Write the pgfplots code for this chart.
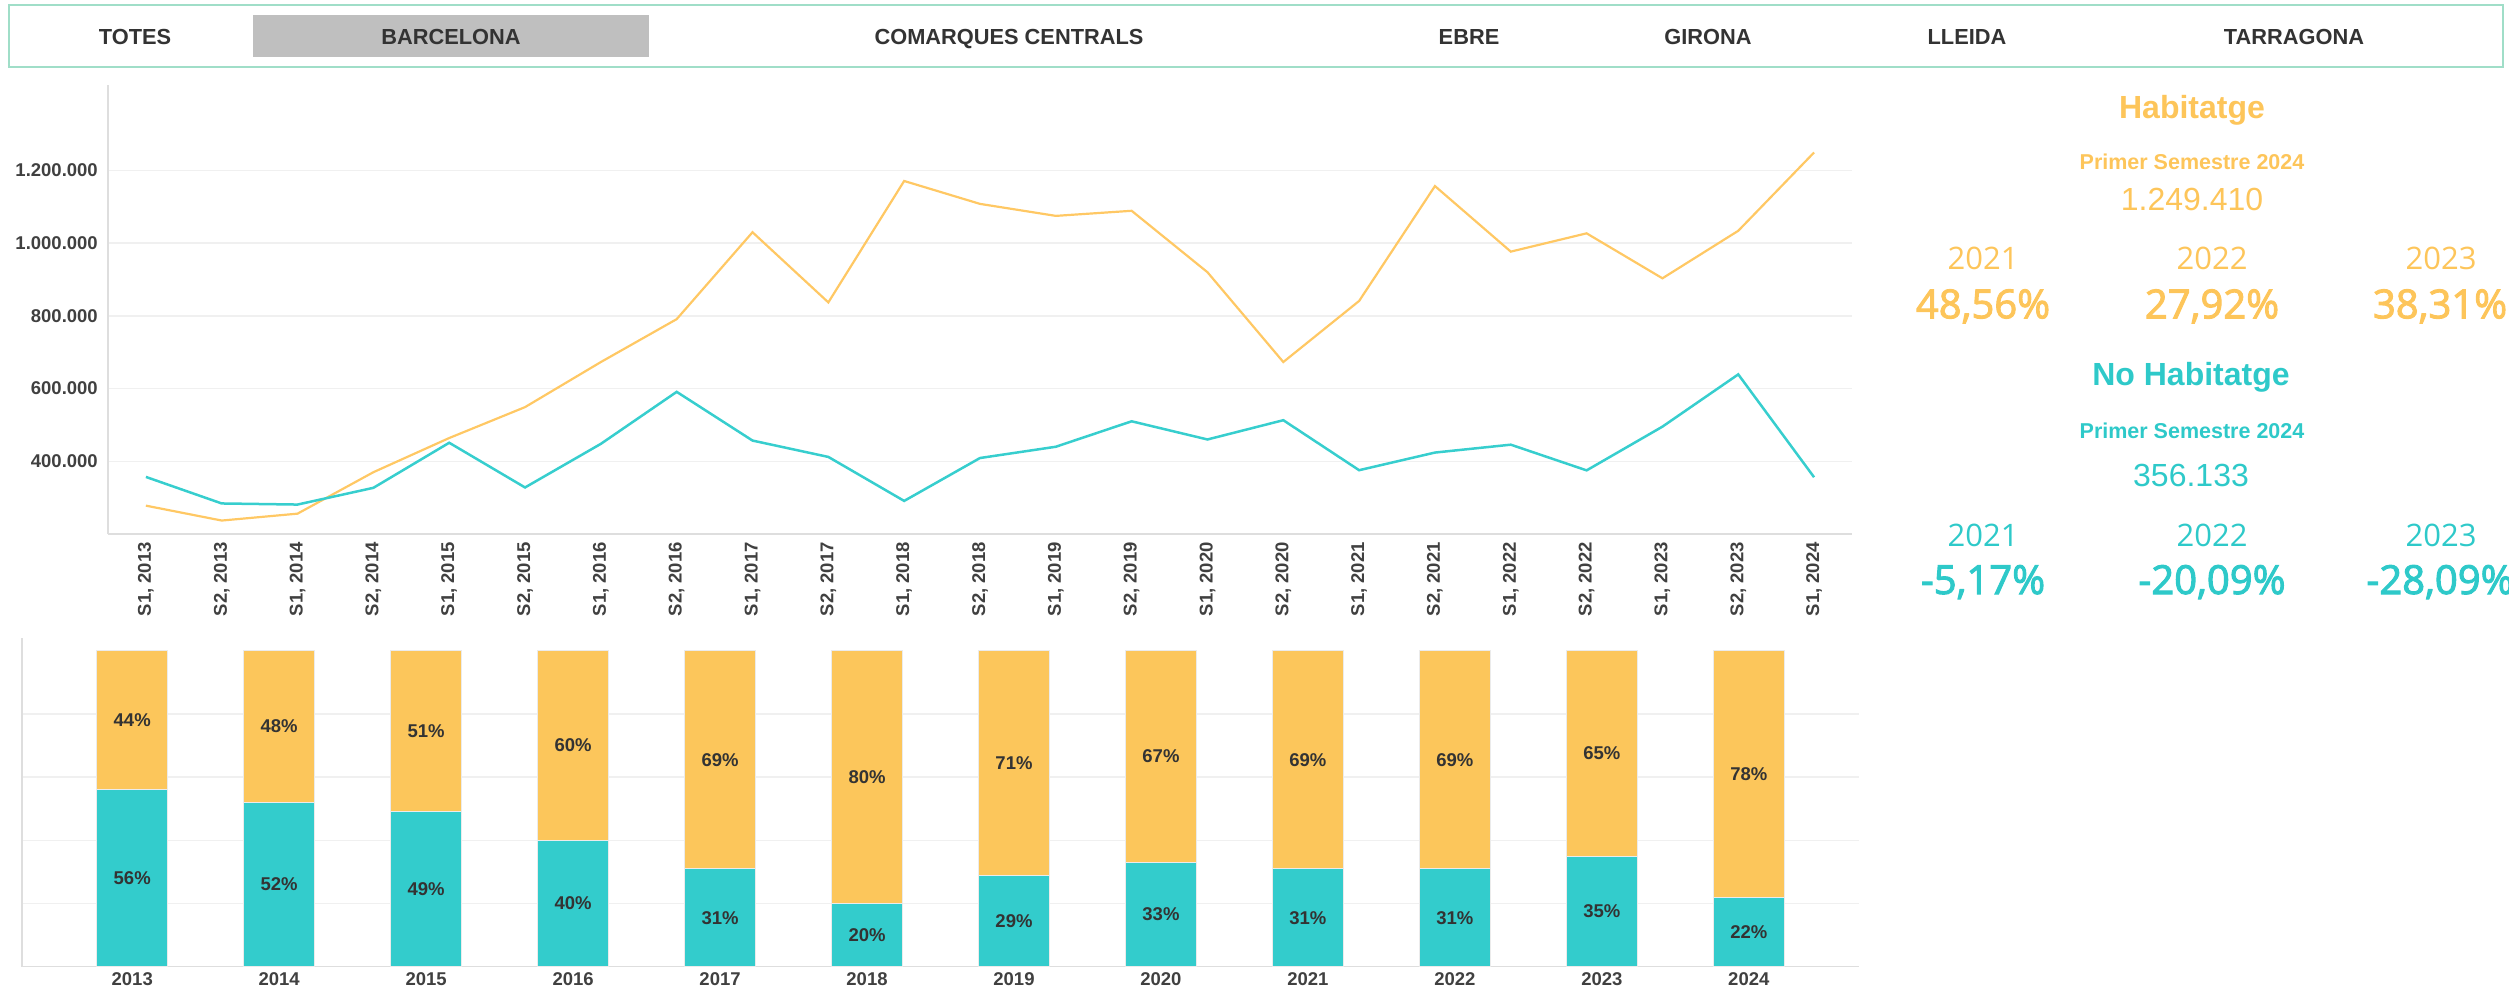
\documentclass[border=0pt]{standalone}
\usepackage{pgfplots}
\pgfplotsset{compat=1.18}
\usepackage{fontspec}
\setmainfont{Liberation Sans}
\newfontfamily\opensans{Open Sans}
\newfontfamily\ossb{Open Sans}[FakeBold=2.5]
\definecolor{hab}{RGB}{252,198,91}
\definecolor{nohab}{RGB}{51,204,204}
\definecolor{habline}{RGB}{255,200,100}
\definecolor{nohabline}{RGB}{55,206,206}
\definecolor{habtxt}{RGB}{253,197,90}
\definecolor{nohabtxt}{RGB}{46,201,201}
\definecolor{lab}{RGB}{64,64,64}
\definecolor{frame}{RGB}{160,222,200}
\newcommand{\fs}[1]{\fontsize{#1pt}{#1pt}\selectfont}

\pgfplotstableread{
x hab nohab
0 278000 357000
1 237000 284000
2 256000 281000
3 370000 327000
4 464000 451000
5 549000 328000
6 673000 448000
7 791000 591000
8 1030000 457000
9 837000 412000
10 1171000 291000
11 1108000 409000
12 1075000 440000
13 1089000 510000
14 920000 460000
15 673000 513000
16 841000 375500
17 1157000 424000
18 976700 445700
19 1027000 375000
20 903300 495300
21 1034000 639000
22 1249410 356133
}\semestres

\pgfplotstableread{
x nohab hab nmid hmid
0 56 44 28 78
1 52 48 26 76
2 49 51 24.5 74.5
3 40 60 20 70
4 31 69 15.5 65.5
5 20 80 10 60
6 29 71 14.5 64.5
7 33 67 16.5 66.5
8 31 69 15.5 65.5
9 31 69 15.5 65.5
10 35 65 17.5 67.5
11 22 78 11 61
}\shares

\begin{document}
\begin{tikzpicture}[x=1pt,y=1pt]
\useasboundingbox (0,0) rectangle (2509,-995);
% header bar
\draw[frame, line width=2pt] (9,-5) rectangle (2503,-67);
\fill[black!25] (253,-15) rectangle (649,-57);
\foreach \x/\t in {135/TOTES, 451/BARCELONA, 1009/COMARQUES CENTRALS, 1469/EBRE, 1708/GIRONA, 1967/LLEIDA, 2294/TARRAGONA}
  \node[anchor=base, inner sep=0pt, text=black!80, font=\fs{21.8}\bfseries] at (\x,-44.3) {\t};

% line chart
\begin{axis}[
  at={(108pt,-534pt)}, anchor=south west, scale only axis,
  width=1744pt, height=449pt,
  xmin=-0.5, xmax=22.5, ymin=200000, ymax=1435000,
  scaled y ticks=false,
  axis x line*=bottom, axis y line*=left,
  axis line style={draw=black!13, line width=1.5pt},
  major tick length=0pt,
  ytick={400000,600000,800000,1000000,1200000},
  yticklabels={400.000,600.000,800.000,1.000.000,1.200.000},
  ymajorgrids, major grid style={draw=black!6, line width=1.5pt},
  xtick={0,...,22},
  xticklabels={{S1, 2013},{S2, 2013},{S1, 2014},{S2, 2014},{S1, 2015},{S2, 2015},{S1, 2016},{S2, 2016},{S1, 2017},{S2, 2017},{S1, 2018},{S2, 2018},{S1, 2019},{S2, 2019},{S1, 2020},{S2, 2020},{S1, 2021},{S2, 2021},{S1, 2022},{S2, 2022},{S1, 2023},{S2, 2023},{S1, 2024}},
  tick label style={font=\fs{18.5}\bfseries, text=lab},
  yticklabel style={anchor=east, inner sep=0pt},
  yticklabel shift=10pt,
  xticklabel style={rotate=90, anchor=east, inner sep=0pt, font=\fs{18.5}\bfseries},
  xticklabel shift=8pt,
]
\addplot[habline, line width=2.2pt, mark=none] table[x=x, y=hab] {\semestres};
\addplot[nohabline, line width=2.5pt, mark=none] table[x=x, y=nohab] {\semestres};
\end{axis}

% stacked bar chart
\begin{axis}[
  at={(22pt,-966.7pt)}, anchor=south west, scale only axis,
  width=1837pt, height=328.7pt,
  xmin=-0.75, xmax=11.75, ymin=0, ymax=104,
  ybar stacked, bar width=71.3pt,
  axis x line*=bottom, axis y line*=left,
  axis line style={draw=black!13, line width=1.5pt},
  major tick length=0pt,
  ytick={20,40,60,80}, yticklabels={},
  ymajorgrids, major grid style={draw=black!6, line width=1.5pt},
  xtick={0,...,11},
  xticklabels={2013,2014,2015,2016,2017,2018,2019,2020,2021,2022,2023,2024},
  xticklabel style={anchor=north, inner sep=0pt, font=\fs{18.5}\bfseries, text=lab},
  xticklabel shift=6pt,
]
\addplot[fill=nohab, draw=black!8, line width=1pt] table[x=x, y=nohab] {\shares};
\addplot[fill=hab, draw=black!8, line width=1pt] table[x=x, y=hab] {\shares};
\end{axis}

% bar labels
\begin{axis}[
  at={(22pt,-966.7pt)}, anchor=south west, scale only axis,
  width=1837pt, height=328.7pt,
  xmin=-0.75, xmax=11.75, ymin=0, ymax=104,
  hide axis, clip=false,
  nodes near coords={\pgfmathprintnumber[fixed,precision=0,assume math mode=true]{\pgfplotspointmeta}\%},
  nodes near coords style={anchor=center, inner sep=0pt, font=\fs{18.5}\bfseries, text=black!80},
]
\addplot[only marks, mark=*, mark size=0pt, mark options={draw=none, fill=none}, point meta=explicit] table[x=x, y=nmid, meta=nohab] {\shares};
\addplot[only marks, mark=*, mark size=0pt, mark options={draw=none, fill=none}, point meta=explicit] table[x=x, y=hmid, meta=hab] {\shares};
\end{axis}

% right panel: Habitatge
\node[anchor=base, inner sep=0pt, text=habtxt, font=\fs{32}\bfseries] at (2192,-118.3) {Habitatge};
\node[anchor=base, inner sep=0pt, text=habtxt, font=\fs{21.5}\bfseries] at (2192,-169.3) {Primer Semestre 2024};
\node[anchor=base, inner sep=0pt, text=habtxt, font=\fs{32}] at (2192,-210.7) {1.249.410};
\node[anchor=base, inner sep=0pt, text=habtxt, font=\opensans\fs{31}] at (1983,-269.3) {2021};
\node[anchor=base, inner sep=0pt, text=habtxt, font=\opensans\fs{31}] at (2212,-269.3) {2022};
\node[anchor=base, inner sep=0pt, text=habtxt, font=\opensans\fs{31}] at (2441,-269.3) {2023};
\node[anchor=base, inner sep=0pt, text=habtxt, font=\ossb\fs{40}] at (1983,-318.3) {48,56\%};
\node[anchor=base, inner sep=0pt, text=habtxt, font=\ossb\fs{40}] at (2212,-318.3) {27,92\%};
\node[anchor=base, inner sep=0pt, text=habtxt, font=\ossb\fs{40}] at (2440,-318.3) {38,31\%};

% right panel: No Habitatge
\node[anchor=base, inner sep=0pt, text=nohabtxt, font=\fs{32}\bfseries] at (2191,-385) {No Habitatge};
\node[anchor=base, inner sep=0pt, text=nohabtxt, font=\fs{21.5}\bfseries] at (2192,-438.3) {Primer Semestre 2024};
\node[anchor=base, inner sep=0pt, text=nohabtxt, font=\fs{32}] at (2191,-486.7) {356.133};
\node[anchor=base, inner sep=0pt, text=nohabtxt, font=\opensans\fs{31}] at (1983,-546.7) {2021};
\node[anchor=base, inner sep=0pt, text=nohabtxt, font=\opensans\fs{31}] at (2212,-546.7) {2022};
\node[anchor=base, inner sep=0pt, text=nohabtxt, font=\opensans\fs{31}] at (2441,-546.7) {2023};
\node[anchor=base, inner sep=0pt, text=nohabtxt, font=\ossb\fs{40}] at (1983,-594) {-5,17\%};
\node[anchor=base, inner sep=0pt, text=nohabtxt, font=\ossb\fs{40}] at (2212,-594) {-20,09\%};
\node[anchor=base, inner sep=0pt, text=nohabtxt, font=\ossb\fs{40}] at (2440,-594) {-28,09\%};
\end{tikzpicture}
\end{document}
